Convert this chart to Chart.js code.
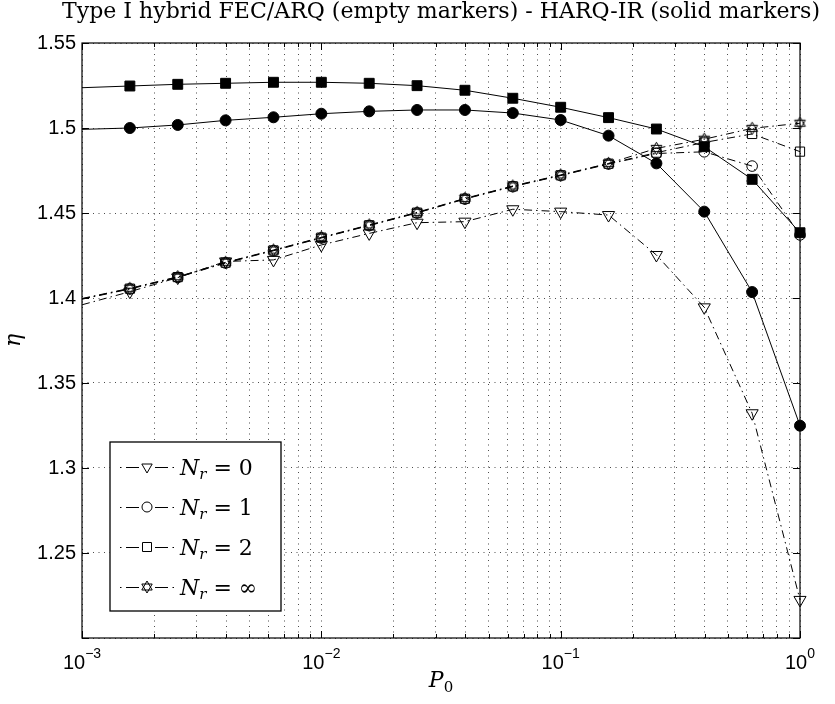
<!DOCTYPE html>
<html>
<head>
<meta charset="utf-8">
<script src="https://cdn.jsdelivr.net/npm/chart.js@4.4.1/dist/chart.umd.min.js"></script>
<style>
  html, body { margin: 0; padding: 0; background: #fff; }
  #wrap { width: 835px; height: 704px; }
</style>
</head>
<body>
<div id="wrap"><canvas id="etaChart" width="835" height="704"></canvas></div>
<script>
// P0 sample points: 10^-3 ... 10^0 in steps of 0.2 decade
const p0Values = [0.001, 0.001585, 0.002512, 0.003981, 0.00631, 0.01, 0.01585, 0.02512,
                  0.03981, 0.0631, 0.1, 0.1585, 0.2512, 0.3981, 0.631, 1];

// Type I hybrid FEC/ARQ (empty markers)
const etaNr0   = [1.3960, 1.4037, 1.4120, 1.4215, 1.4224, 1.4312, 1.4380, 1.4443,
                  1.4449, 1.4522, 1.4508, 1.4488, 1.4253, 1.3945, 1.3322, 1.2224];
const etaNr1   = [1.3993, 1.4053, 1.4121, 1.4206, 1.4278, 1.4353, 1.4426, 1.4500,
                  1.4582, 1.4655, 1.4720, 1.4788, 1.4850, 1.4860, 1.4776, 1.4371];
const etaNr2   = [1.3995, 1.4055, 1.4123, 1.4208, 1.4280, 1.4355, 1.4428, 1.4502,
                  1.4584, 1.4657, 1.4722, 1.4790, 1.4855, 1.4915, 1.4965, 1.4861];
const etaNrInf = [1.3997, 1.4057, 1.4125, 1.4210, 1.4282, 1.4357, 1.4430, 1.4504,
                  1.4586, 1.4659, 1.4724, 1.4792, 1.4880, 1.4934, 1.4998, 1.5028];

// HARQ-IR (solid markers)
const etaIrNr1 = [1.4992, 1.5000, 1.5018, 1.5045, 1.5063, 1.5084, 1.5098, 1.5106,
                  1.5106, 1.5088, 1.5047, 1.4955, 1.4792, 1.4508, 1.4035, 1.3249];
const etaIrNr2 = [1.5237, 1.5247, 1.5257, 1.5263, 1.5269, 1.5269, 1.5263, 1.5249,
                  1.5222, 1.5175, 1.5122, 1.5061, 1.4994, 1.4890, 1.4698, 1.4384];

const legendLabels = ['0', '1', '2', '\u221E'];
const xDecades = [0.001, 0.01, 0.1, 1];
const xDecadeExps = ['\u22123', '\u22122', '\u22121', '0'];
const yTickValues = [1.2, 1.25, 1.3, 1.35, 1.4, 1.45, 1.5, 1.55];
const yTickLabels = ['', '1.25', '1.3', '1.35', '1.4', '1.45', '1.5', '1.55'];
const titleText = 'Type I hybrid FEC/ARQ (empty markers) - HARQ-IR (solid markers)';

const DASH_DOT = [8, 4, 1.5, 4];
const SERIF = '"DejaVu Serif", "Liberation Serif", serif';
const SANS = '"Liberation Sans", Arial, sans-serif';

// minor + major log ticks for the x axis
const xTickValues = [];
xDecades.forEach(d => {
    if (d === 1) { xTickValues.push(1); return; }
    for (let m = 1; m <= 9; m++) xTickValues.push(+(d * m).toPrecision(3));
});

// hexagram marker (Chart.js has no six-point star)
function drawHexagram(ctx, cx, cy, r) {
    for (let k = 0; k < 2; k++) {
        ctx.beginPath();
        for (let i = 0; i < 3; i++) {
            const a = (k === 0 ? -Math.PI / 2 : Math.PI / 2) + i * 2 * Math.PI / 3;
            const px = cx + r * Math.cos(a), py = cy + r * Math.sin(a);
            if (i === 0) ctx.moveTo(px, py); else ctx.lineTo(px, py);
        }
        ctx.closePath();
        ctx.stroke();
    }
}
const hexCanvas = document.createElement('canvas');
hexCanvas.width = 15; hexCanvas.height = 15;
(function () {
    const c = hexCanvas.getContext('2d');
    c.strokeStyle = '#000';
    c.lineWidth = 1;
    drawHexagram(c, 7.5, 7.5, 6.2);
})();

function toPoints(ys) {
    return p0Values.map((x, i) => ({ x: x, y: ys[i] }));
}

// no marker on the first sample (axis edge)
const hideFirst = r => ctx => ctx.dataIndex === 0 ? 0 : r;

function emptySeries(label, ys, style, radius, rotation) {
    return {
        label: label,
        data: toPoints(ys),
        borderColor: '#000',
        borderWidth: 1,
        borderDash: DASH_DOT,
        backgroundColor: 'rgba(0,0,0,0)',
        pointStyle: style,
        pointRotation: rotation || 0,
        pointRadius: hideFirst(radius),
        pointBorderWidth: 1,
        pointBorderColor: '#000',
        pointBackgroundColor: 'rgba(0,0,0,0)',
        tension: 0,
        clip: false
    };
}

function solidSeries(label, ys, style, radius) {
    return {
        label: label,
        data: toPoints(ys),
        borderColor: '#000',
        borderWidth: 1,
        backgroundColor: '#000',
        pointStyle: style,
        pointRadius: hideFirst(radius),
        pointBorderWidth: 1,
        pointBorderColor: '#000',
        pointBackgroundColor: '#000',
        tension: 0,
        clip: false
    };
}

const datasets = [
    solidSeries('HARQ-IR Nr=2', etaIrNr2, 'rect', 7),
    solidSeries('HARQ-IR Nr=1', etaIrNr1, 'circle', 5.5),
    emptySeries('Nr=0', etaNr0, 'triangle', 7, 180),
    emptySeries('Nr=1', etaNr1, 'circle', 5.3),
    emptySeries('Nr=2', etaNr2, 'rect', 6.5),
    emptySeries('Nr=inf', etaNrInf, hexCanvas, 6)
];

// legend marker drawing, same shapes as the plot markers
function drawLegendMarker(ctx, kind, x, y) {
    ctx.save();
    ctx.strokeStyle = '#000';
    ctx.lineWidth = 1;
    ctx.setLineDash([]);
    ctx.beginPath();
    if (kind === 0) {
        const r = 6;
        ctx.moveTo(x - r * 0.866, y - r * 0.5);
        ctx.lineTo(x + r * 0.866, y - r * 0.5);
        ctx.lineTo(x, y + r);
        ctx.closePath();
        ctx.stroke();
    } else if (kind === 1) {
        ctx.arc(x, y, 5, 0, Math.PI * 2);
        ctx.stroke();
    } else if (kind === 2) {
        ctx.rect(x - 4.5, y - 4.5, 9, 9);
        ctx.stroke();
    } else {
        drawHexagram(ctx, x, y, 6);
    }
    ctx.restore();
}

const decorPlugin = {
    id: 'decor',
    afterDraw(chart) {
        const ctx = chart.ctx;
        const area = chart.chartArea;
        const xs = chart.scales.x, ys = chart.scales.y;
        ctx.save();

        // axes box
        ctx.strokeStyle = '#000';
        ctx.lineWidth = 1.2;
        ctx.setLineDash([]);
        ctx.strokeRect(area.left, area.top, area.right - area.left, area.bottom - area.top);

        // inward tick marks on all four sides
        ctx.lineWidth = 1;
        ctx.beginPath();
        xTickValues.forEach(v => {
            const px = Math.round(xs.getPixelForValue(v)) + 0.5;
            const len = xDecades.includes(v) ? 7 : 4;
            ctx.moveTo(px, area.bottom); ctx.lineTo(px, area.bottom - len);
            ctx.moveTo(px, area.top); ctx.lineTo(px, area.top + len);
        });
        yTickValues.forEach(v => {
            const py = Math.round(ys.getPixelForValue(v)) + 0.5;
            ctx.moveTo(area.left, py); ctx.lineTo(area.left + 7, py);
            ctx.moveTo(area.right, py); ctx.lineTo(area.right - 7, py);
        });
        ctx.stroke();

        // x tick labels: 10 with superscript exponent
        ctx.fillStyle = '#000';
        ctx.textBaseline = 'alphabetic';
        ctx.textAlign = 'left';
        xDecades.forEach((v, i) => {
            const px = xs.getPixelForValue(v);
            ctx.font = '20px ' + SANS;
            const wBase = ctx.measureText('10').width;
            ctx.font = '14px ' + SANS;
            const wExp = ctx.measureText(xDecadeExps[i]).width;
            const x0 = px - (wBase + wExp) / 2;
            ctx.font = '20px ' + SANS;
            ctx.fillText('10', x0, 669);
            ctx.font = '14px ' + SANS;
            ctx.fillText(xDecadeExps[i], x0 + wBase, 658);
        });

        // title, fitted across the figure
        ctx.font = '20px ' + SERIF;
        const tw = ctx.measureText(titleText).width;
        const tSize = 20 * 758 / tw;
        ctx.font = tSize.toFixed(2) + 'px ' + SERIF;
        ctx.textAlign = 'center';
        ctx.fillText(titleText, (area.left + area.right) / 2, 18);

        // x axis label P_0
        ctx.textAlign = 'left';
        ctx.font = 'italic 22px ' + SERIF;
        const wP = ctx.measureText('P').width;
        ctx.font = '15px ' + SERIF;
        const w0 = ctx.measureText('0').width;
        const xl = (area.left + area.right) / 2 - (wP + w0) / 2;
        ctx.font = 'italic 22px ' + SERIF;
        ctx.fillText('P', xl, 687);
        ctx.font = '15px ' + SERIF;
        ctx.fillText('0', xl + wP, 692);

        // y axis label eta
        ctx.save();
        ctx.translate(20, (area.top + area.bottom) / 2);
        ctx.rotate(-Math.PI / 2);
        ctx.textAlign = 'center';
        ctx.font = 'italic 22px ' + SERIF;
        ctx.fillText('\u03B7', 0, 0);
        ctx.restore();

        // legend box
        const lx = 110, ly = 442, lw = 171, lh = 169;
        ctx.fillStyle = '#fff';
        ctx.fillRect(lx, ly, lw, lh);
        ctx.strokeStyle = '#000';
        ctx.lineWidth = 1.3;
        ctx.strokeRect(lx, ly, lw, lh);
        const rowY = [467, 507, 547, 587];
        legendLabels.forEach((lab, i) => {
            const y = rowY[i];
            ctx.strokeStyle = '#000';
            ctx.lineWidth = 1;
            ctx.beginPath();
            ctx.moveTo(120, y + 0.5); ctx.lineTo(121.5, y + 0.5);
            ctx.moveTo(126, y + 0.5); ctx.lineTo(139, y + 0.5);
            ctx.moveTo(155, y + 0.5); ctx.lineTo(168, y + 0.5);
            ctx.moveTo(172.5, y + 0.5); ctx.lineTo(174, y + 0.5);
            ctx.stroke();
            drawLegendMarker(ctx, i, 147, y);

            ctx.fillStyle = '#000';
            let tx = 180;
            ctx.font = 'italic 22px ' + SERIF;
            ctx.fillText('N', tx, y + 8);
            tx += ctx.measureText('N').width;
            ctx.font = 'italic 15px ' + SERIF;
            ctx.fillText('r', tx, y + 12);
            tx += ctx.measureText('r').width;
            ctx.font = '22px ' + SERIF;
            ctx.fillText(' = ' + lab, tx, y + 8);
        });

        ctx.restore();
    }
};

const ctx = document.getElementById('etaChart').getContext('2d');
new Chart(ctx, {
    type: 'line',
    data: { datasets: datasets },
    options: {
        responsive: false,
        animation: false,
        devicePixelRatio: 1,
        layout: { padding: { top: 43, right: 35, left: 0, bottom: 0 } },
        plugins: {
            legend: { display: false },
            tooltip: { enabled: false },
            title: { display: false }
        },
        scales: {
            x: {
                type: 'logarithmic',
                min: 0.001,
                max: 1,
                afterBuildTicks: s => { s.ticks = xTickValues.map(v => ({ value: v })); },
                afterFit: s => { s.height = 66; },
                ticks: { display: false },
                grid: { color: 'rgba(0,0,0,0.7)', lineWidth: 1, drawTicks: false },
                border: { display: false, dash: [1, 4.5] }
            },
            y: {
                type: 'linear',
                min: 1.2,
                max: 1.55,
                afterBuildTicks: s => { s.ticks = yTickValues.map(v => ({ value: v })); },
                afterFit: s => { s.width = 82; },
                ticks: {
                    autoSkip: false,
                    padding: 6,
                    color: '#000',
                    font: { family: SANS, size: 20 },
                    callback: (v, i) => yTickLabels[i]
                },
                grid: { color: 'rgba(0,0,0,0.7)', lineWidth: 1, drawTicks: false },
                border: { display: false, dash: [1, 4.5] }
            }
        }
    },
    plugins: [decorPlugin]
});
</script>
</body>
</html>
